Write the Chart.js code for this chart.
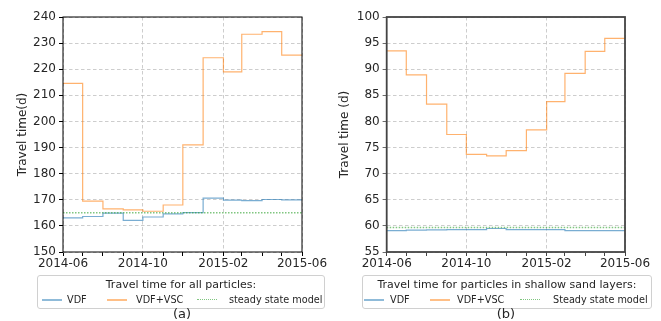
<!DOCTYPE html>
<html>
<head>
<meta charset="utf-8">
<script src="https://cdn.jsdelivr.net/npm/chart.js@4.4.0/dist/chart.umd.min.js"></script>
<style>
body { margin: 0; background: #fff; font-family: "DejaVu Sans", sans-serif; }
.panel { position: absolute; top: 0; height: 321px; }
.legend { position: absolute; top: 275px; height: 34px; border: 1px solid #d0d0d0; border-radius: 3px; box-sizing: border-box; color: #262626; }
.legend .ttl { position: absolute; left: 0; right: 0; top: 2px; text-align: center; font-size: 11px; line-height: 14px; white-space: nowrap; }
.legend .item { position: absolute; top: 16.5px; font-size: 9.7px; line-height: 14px; white-space: nowrap; }
.legend .sw { position: absolute; top: 23px; width: 20px; height: 1.5px; }
.legend .dot { position: absolute; top: 23px; width: 20px; height: 0; border-top: 1.5px dotted; }
.caption { position: absolute; top: 306px; width: 40px; text-align: center; font-size: 13px; line-height: 15px; color: #262626; }
</style>
</head>
<body>
<div class="panel" style="left:0;width:330px"><canvas id="chartA" width="330" height="321"></canvas></div>
<div class="panel" style="left:330px;width:331px"><canvas id="chartB" width="331" height="321"></canvas></div>

<div class="legend" style="left:37px;width:288px">
  <div class="ttl">Travel time for all particles:</div>
  <div class="sw" style="left:4px;background:#8fbbd9"></div>
  <div class="item" style="left:29px">VDF</div>
  <div class="sw" style="left:69px;background:#ffbf86"></div>
  <div class="item" style="left:98px">VDF+VSC</div>
  <div class="dot" style="left:159px;border-color:#80c680"></div>
  <div class="item" style="left:191px">steady state model</div>
</div>
<div class="legend" style="left:362px;width:290px">
  <div class="ttl">Travel time for particles in shallow sand layers:</div>
  <div class="sw" style="left:1px;background:#8fbbd9"></div>
  <div class="item" style="left:27px">VDF</div>
  <div class="sw" style="left:67px;background:#ffbf86"></div>
  <div class="item" style="left:94px">VDF+VSC</div>
  <div class="dot" style="left:157px;border-color:#80c680"></div>
  <div class="item" style="left:190px">Steady state model</div>
</div>
<div class="caption" style="left:162px">(a)</div>
<div class="caption" style="left:486px">(b)</div>

<script>
// days since 2014-06-01 for each month start
const monthStart = [0, 30, 61, 92, 122, 153, 183, 214, 245, 273, 304, 334, 365];
const tickDays = [0, 122, 245, 365];
const tickLabels = ['2014-06', '2014-10', '2015-02', '2015-06'];

// (a) all particles
const vdfAll = [163.1, 163.6, 164.9, 162.1, 163.4, 164.6, 165.1, 170.6, 169.9, 169.7, 170.1, 170.0];
const vscAll = [214.6, 169.5, 166.5, 166.1, 165.6, 168.0, 191.0, 224.4, 219.0, 233.4, 234.4, 225.4];
const steadyAll = 165.0;

// (b) shallow sand layers
const vdfShallow = [59.1, 59.2, 59.25, 59.3, 59.3, 59.5, 59.3, 59.3, 59.3, 59.1, 59.1, 59.1];
const vscShallow = [93.5, 88.9, 83.3, 77.5, 73.7, 73.4, 74.4, 78.4, 83.8, 89.2, 93.4, 95.9];
const steadyShallow = 59.7;

const blue = 'rgba(31,119,180,0.6)';
const orange = 'rgba(255,127,14,0.6)';
const green = 'rgba(44,160,44,0.6)';

function steps(vals) {
  return monthStart.map((d, i) => ({ x: d, y: vals[Math.min(i, vals.length - 1)] }));
}

const frame = {
  id: 'frame',
  afterDraw(chart, args, opts) {
    const a = chart.chartArea, ctx = chart.ctx;
    ctx.save();
    ctx.strokeStyle = opts.color;
    ctx.lineWidth = opts.width;
    ctx.strokeRect(a.left, a.top, a.right - a.left, a.bottom - a.top);
    ctx.restore();
  }
};

function makePanel(id, vdf, vsc, steady, yMin, yMax, yStep, yTitle, p) {
  const ctx = document.getElementById(id).getContext('2d');
  new Chart(ctx, {
    type: 'line',
    data: {
      datasets: [
        { data: steps(vdf), borderColor: blue, borderWidth: 1.2, stepped: true, pointRadius: 0, order: 2 },
        { data: steps(vsc), borderColor: orange, borderWidth: 1.2, stepped: true, pointRadius: 0, order: 1 },
        { data: [{ x: 0, y: steady }, { x: 365, y: steady }], borderColor: green, borderWidth: 1.5,
          borderDash: [1.5, 1.5], pointRadius: 0, order: 0 }
      ]
    },
    options: {
      responsive: false,
      animation: false,
      layout: { padding: { left: 0, top: 17, right: p.right, bottom: 49 } },
      plugins: {
        legend: { display: false },
        tooltip: { enabled: false },
        frame: { color: p.spine, width: p.spineWidth }
      },
      scales: {
        x: {
          type: 'linear', min: 0, max: 365,
          afterBuildTicks: s => { s.ticks = monthStart.map(v => ({ value: v })); },
          afterFit: s => { s.height = 20; },
          ticks: {
            autoSkip: false, maxRotation: 0, padding: 1, color: '#262626',
            font: { family: 'DejaVu Sans', size: 12 },
            callback: v => { const k = tickDays.indexOf(v); return k >= 0 ? tickLabels[k] : ''; }
          },
          grid: {
            color: c => (c.tick && tickDays.includes(c.tick.value)) ? '#c0c0c0' : 'rgba(0,0,0,0)',
            lineWidth: 0.8, tickColor: p.spine, tickLength: 4,
            tickBorderDash: [1, 0], tickWidth: 1
          },
          border: { display: false, dash: [3.5, 2.5] }
        },
        y: {
          min: yMin, max: yMax,
          afterFit: s => { s.width = p.yWidth; },
          ticks: { stepSize: yStep, padding: 3, color: '#262626', font: { family: 'DejaVu Sans', size: 12 } },
          grid: {
            color: '#c0c0c0', lineWidth: 0.8, tickColor: p.spine, tickLength: 4,
            tickBorderDash: [1, 0], tickWidth: 1
          },
          border: { display: false, dash: [3.5, 2.5] },
          title: { display: true, text: yTitle, color: '#262626', padding: { top: p.titlePad, bottom: 0 },
                   font: { family: 'DejaVu Sans', size: 12 } }
        }
      }
    },
    plugins: [frame]
  });
}

makePanel('chartA', vdfAll, vscAll, steadyAll, 150, 240, 10, 'Travel time(d)',
  { right: 28, yWidth: 63, titlePad: 16, spine: '#000', spineWidth: 1 });
makePanel('chartB', vdfShallow, vscShallow, steadyShallow, 55, 100, 5, 'Travel time (d)',
  { right: 36, yWidth: 56.7, titlePad: 8, spine: '#444', spineWidth: 1.8 });
</script>
</body>
</html>
